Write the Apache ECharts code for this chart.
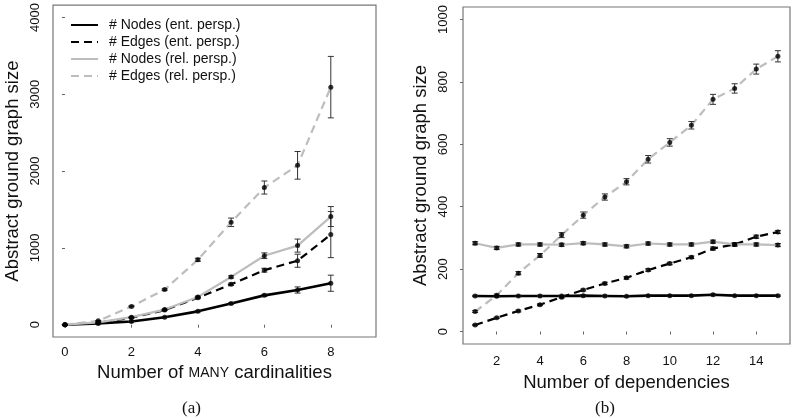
<!DOCTYPE html>
<html>
<head>
<meta charset="utf-8">
<script src="https://cdn.jsdelivr.net/npm/echarts@6/dist/echarts.min.js"></script>
<style>html,body{margin:0;padding:0;background:#fff;}#c{width:792px;height:418px;}</style>
</head>
<body>
<div id="c"></div>
<script>
// ---- Panel (a): Number of MANY cardinalities ----
const xA = [0, 1, 2, 3, 4, 5, 6, 7, 8];
const nodesEntA = [0, 17, 42, 98, 174, 276, 382, 452, 540];
const nodesEntAErr = [0, 2, 3, 5, 8, 10, 14, 40, 105];
const edgesEntA = [0, 25, 90, 190, 350, 526, 710, 833, 1173];
const edgesEntAErr = [0, 2, 4, 6, 10, 15, 25, 85, 300];
const nodesRelA = [0, 30, 98, 197, 362, 622, 898, 1030, 1408];
const nodesRelAErr = [0, 2, 4, 6, 10, 15, 37, 85, 130];
const edgesRelA = [0, 50, 238, 457, 846, 1333, 1786, 2075, 3093];
const edgesRelAErr = [0, 3, 6, 10, 20, 55, 85, 180, 400];
const xTicksA = [0, 2, 4, 6, 8];
const yTicksA = [0, 1000, 2000, 3000, 4000];

// ---- Panel (b): Number of dependencies ----
const xB = [1, 2, 3, 4, 5, 6, 7, 8, 9, 10, 11, 12, 13, 14, 15];
const nodesEntB = [114, 113, 114, 114, 114, 115, 114, 113, 115, 115, 115, 118, 115, 115, 115];
const nodesEntBErr = [2, 2, 2, 2, 2, 2, 2, 2, 2, 2, 2, 2, 2, 2, 2];
const edgesEntB = [21, 44, 66, 86, 110, 133, 154, 172, 197, 218, 238, 266, 279, 304, 319];
const edgesEntBErr = [2, 2, 3, 3, 3, 3, 4, 4, 4, 4, 4, 5, 5, 5, 5];
const nodesRelB = [283, 268, 279, 279, 278, 283, 279, 273, 282, 279, 279, 288, 279, 279, 277];
const nodesRelBErr = [5, 5, 5, 5, 5, 5, 5, 5, 5, 5, 5, 5, 5, 5, 5];
const edgesRelB = [64, 116, 187, 244, 309, 373, 431, 480, 552, 606, 661, 744, 779, 841, 882];
const edgesRelBErr = [3, 4, 5, 6, 8, 10, 10, 10, 12, 12, 12, 16, 15, 16, 18];
const xTicksB = [2, 4, 6, 8, 10, 12, 14];
const yTicksB = [0, 200, 400, 600, 800, 1000];

const names = ['# Nodes (ent. persp.)', '# Edges (ent. persp.)', '# Nodes (rel. persp.)', '# Edges (rel. persp.)'];
const styles = [
  {color: '#000000', width: 2.6, type: 'solid'},
  {color: '#000000', width: 2.2, type: [8, 5]},
  {color: '#bdbdbd', width: 2.2, type: 'solid'},
  {color: '#bdbdbd', width: 2.2, type: [8, 5]}
];
const FONT = '"Liberation Sans", Arial, Helvetica, sans-serif';

function pairs(xs, ys) { return xs.map((x, i) => [x, ys[i]]); }
function errs(xs, ys, es) { return xs.map((x, i) => [x, ys[i] - es[i], ys[i] + es[i]]); }

function errRender(params, api) {
  const x = api.value(0), lo = api.value(1), hi = api.value(2);
  const pLo = api.coord([x, lo]);
  const pHi = api.coord([x, hi]);
  const w = 3;
  const st = {stroke: '#333', lineWidth: 1};
  return {
    type: 'group',
    children: [
      {type: 'line', shape: {x1: pLo[0], y1: pLo[1], x2: pHi[0], y2: pHi[1]}, style: st},
      {type: 'line', shape: {x1: pLo[0] - w, y1: pLo[1], x2: pLo[0] + w, y2: pLo[1]}, style: st},
      {type: 'line', shape: {x1: pHi[0] - w, y1: pHi[1], x2: pHi[0] + w, y2: pHi[1]}, style: st}
    ]
  };
}

function panelSeries(idx, xs, sets) {
  const out = [];
  sets.forEach((s, k) => {
    out.push({
      name: names[k], type: 'line', xAxisIndex: idx, yAxisIndex: idx,
      data: pairs(xs, s[0]), symbol: 'none', showSymbol: false,
      lineStyle: styles[k], itemStyle: {color: styles[k].color},
      z: 2, animation: false, silent: true
    });
  });
  sets.forEach((s, k) => {
    out.push({
      type: 'custom', xAxisIndex: idx, yAxisIndex: idx,
      data: errs(xs, s[0], s[1]), renderItem: errRender,
      encode: {x: 0, y: [1, 2]}, z: 3, animation: false, silent: true
    });
  });
  sets.forEach((s, k) => {
    out.push({
      type: 'scatter', xAxisIndex: idx, yAxisIndex: idx,
      data: pairs(xs, s[0]), symbol: 'circle', symbolSize: 5,
      itemStyle: {color: '#000'}, z: 4, animation: false, silent: true
    });
  });
  return out;
}

function xAx(grid, min, max, ticks, name, gap, margin, rich) {
  return {
    type: 'value', gridIndex: grid, min: min, max: max,
    splitLine: {show: false}, axisLine: {show: false},
    name: name, nameLocation: 'middle', nameGap: gap,
    nameTextStyle: {fontFamily: FONT, fontSize: 18.5, color: '#111', rich: rich || {}},
    axisTick: {show: true, inside: false, length: 3, customValues: ticks, lineStyle: {color: '#666'}},
    axisLabel: {customValues: ticks, fontFamily: FONT, fontSize: 13, color: '#111', margin: margin,
      formatter: v => String(v)}
  };
}
function yAx(grid, min, max, ticks, name, gap, margin) {
  return {
    type: 'value', gridIndex: grid, min: min, max: max,
    splitLine: {show: false}, axisLine: {show: false},
    name: name, nameLocation: 'middle', nameGap: gap,
    nameTextStyle: {fontFamily: FONT, fontSize: 18.5, color: '#111'},
    axisTick: {show: true, inside: false, length: 3, customValues: ticks, lineStyle: {color: '#666'}},
    axisLabel: {customValues: ticks, rotate: 90, align: 'center', verticalAlign: 'bottom',
      fontFamily: FONT, fontSize: 13, color: '#111', margin: margin,
      formatter: v => String(v)}
  };
}

const option = {
  backgroundColor: '#fff',
  animation: false,
  grid: [
    {left: 53, top: 4, width: 323, height: 333, show: true, borderColor: '#777', borderWidth: 1.2, backgroundColor: 'transparent'},
    {left: 463, top: 7, width: 327, height: 337, show: true, borderColor: '#777', borderWidth: 1.2, backgroundColor: 'transparent'}
  ],
  xAxis: [
    xAx(0, -0.36, 9.36, xTicksA, 'Number of {sc|MANY} cardinalities', 26, 9, {sc: {fontFamily: FONT, fontSize: 14, color: '#111'}}),
    xAx(1, 0.44, 15.56, xTicksB, 'Number of dependencies', 29, 11)
  ],
  yAxis: [
    yAx(0, -160, 4160, yTicksA, 'Abstract ground graph size', 31, 11),
    yAx(1, -40, 1040, yTicksB, 'Abstract ground graph size', 33, 13)
  ],
  legend: {
    show: true, orient: 'vertical', left: 65, top: 13,
    data: names, itemWidth: 27, itemHeight: 14, itemGap: 3,
    selectedMode: false,
    itemStyle: {opacity: 0},
    textStyle: {fontFamily: FONT, fontSize: 14, color: '#111', padding: [0, 0, 0, 6]}
  },
  title: [
    {text: '(a)', left: 182, top: 400, padding: 0, textStyle: {fontFamily: '"Liberation Serif", "DejaVu Serif", serif', fontSize: 17, fontWeight: 'normal', color: '#111'}},
    {text: '(b)', left: 595, top: 400, padding: 0, textStyle: {fontFamily: '"Liberation Serif", "DejaVu Serif", serif', fontSize: 17, fontWeight: 'normal', color: '#111'}}
  ],
  series: [].concat(
    panelSeries(0, xA, [[nodesEntA, nodesEntAErr], [edgesEntA, edgesEntAErr], [nodesRelA, nodesRelAErr], [edgesRelA, edgesRelAErr]]),
    panelSeries(1, xB, [[nodesEntB, nodesEntBErr], [edgesEntB, edgesEntBErr], [nodesRelB, nodesRelBErr], [edgesRelB, edgesRelBErr]])
  )
};

const chart = echarts.init(document.getElementById('c'), null, {renderer: 'canvas'});
chart.setOption(option);
</script>
</body>
</html>
